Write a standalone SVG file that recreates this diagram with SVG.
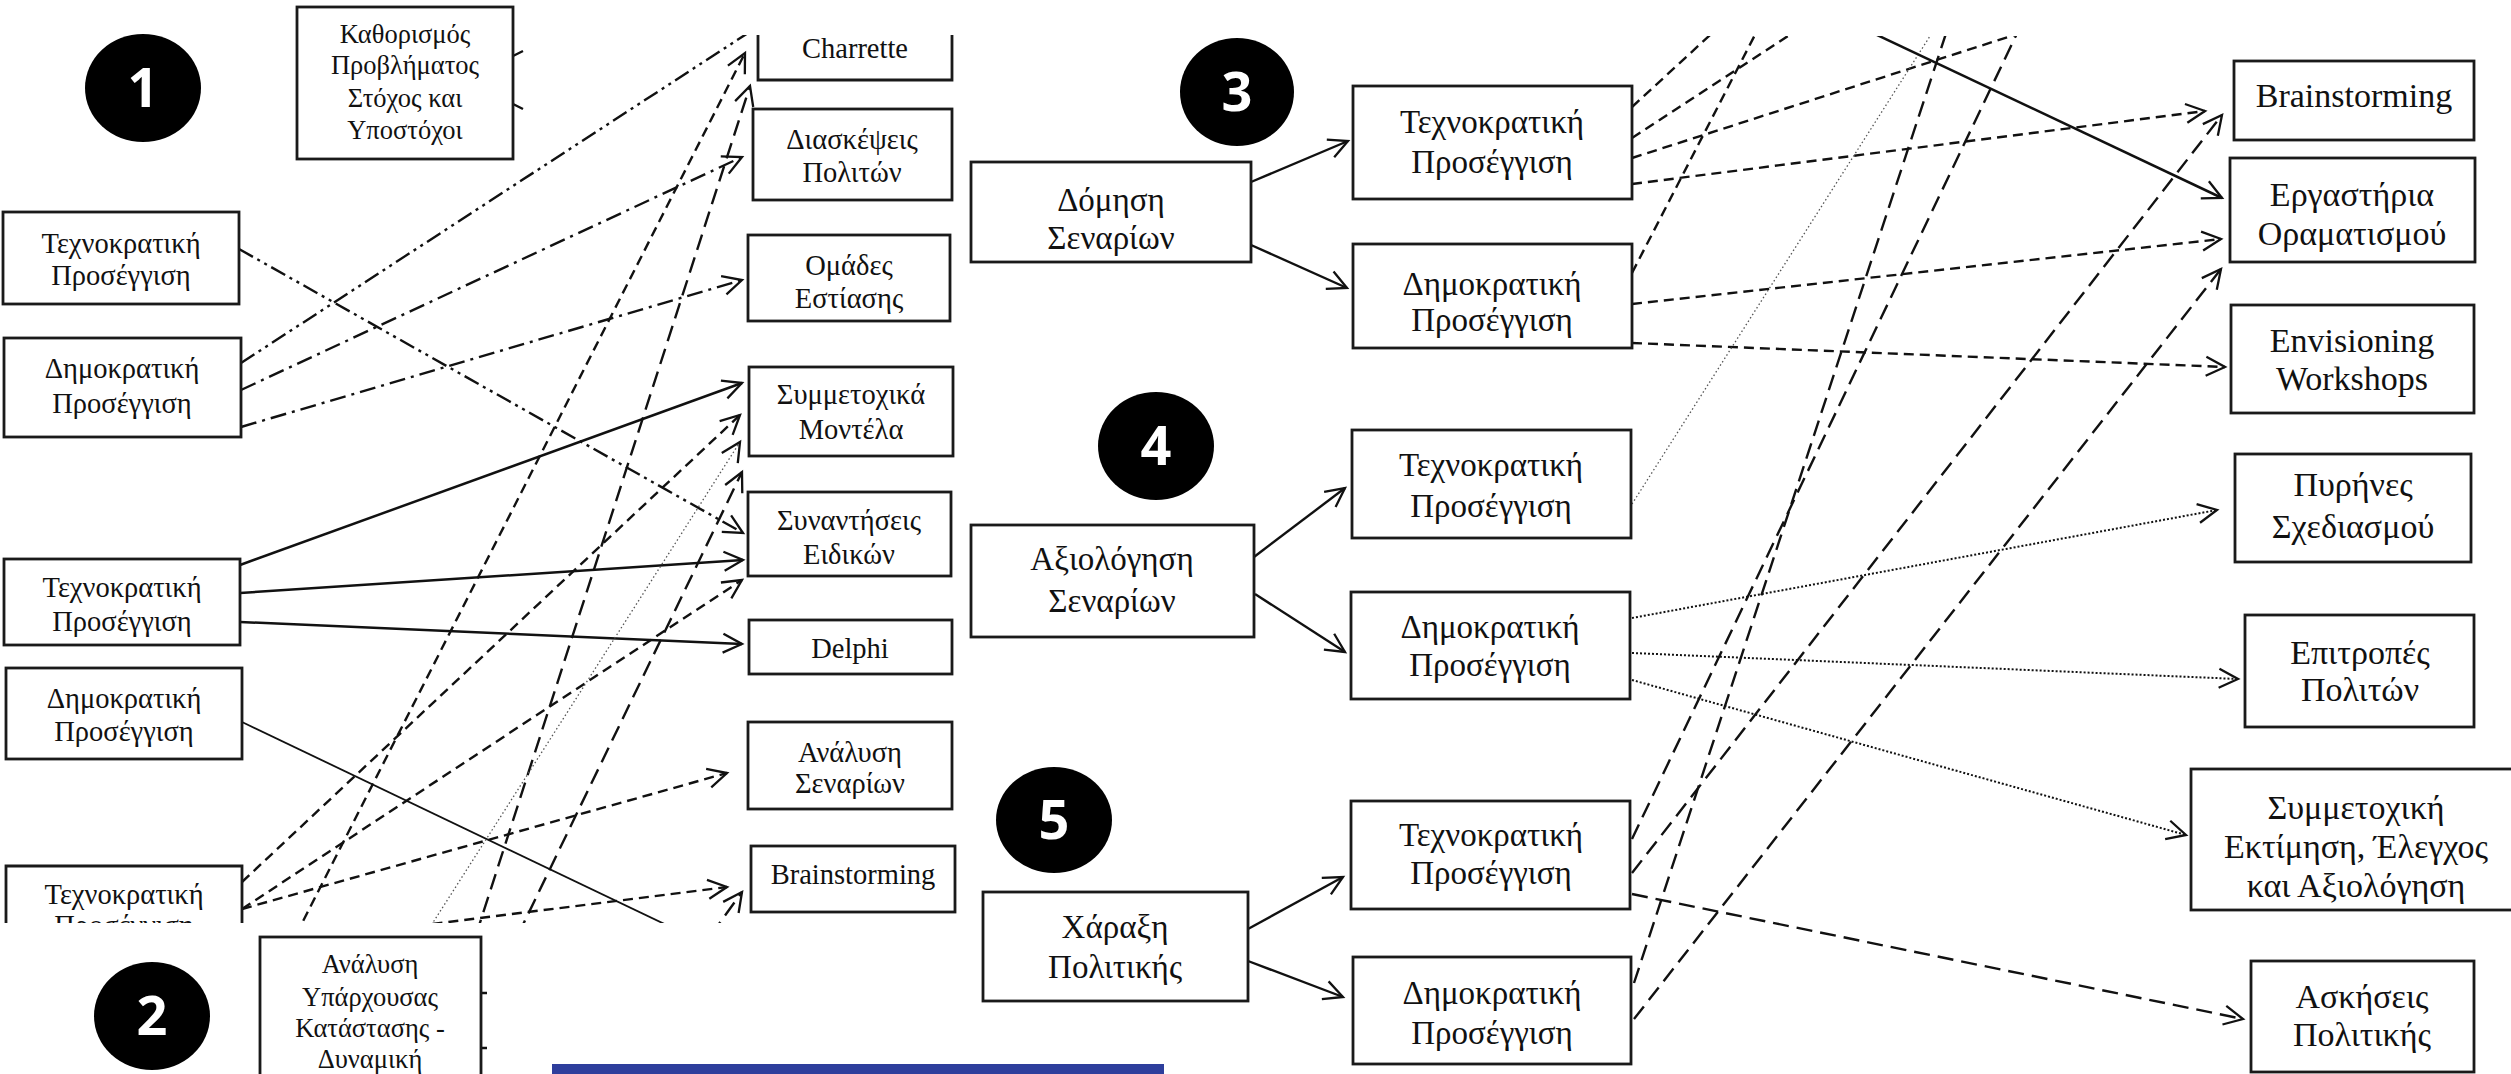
<svg xmlns="http://www.w3.org/2000/svg" width="2511" height="1074" viewBox="0 0 2511 1074">
<style>
.bx{fill:#fff;stroke:#1a1a1a;stroke-width:2.8}
.bo{fill:none;stroke:#1a1a1a;stroke-width:2.8}
.t{font-family:"Liberation Serif","Times New Roman",serif;text-anchor:middle;fill:#111}
.tl{font-size:28.5px}
.tr{font-size:33px}
.tc{font-size:34px}
.ts{font-size:26.5px}
.num{font-family:"Open Sans","Noto Sans",sans-serif;font-weight:700;font-size:54px;fill:#fff;text-anchor:middle}
.c{fill:none;stroke:#111;stroke-width:2.4}
.solid{stroke-width:2.5}
.thin{stroke-width:1.8}
.sd{stroke-dasharray:10 6}
.ld{stroke-dasharray:16 8}
.dd{stroke-dasharray:16 6 3 6}
.ddd{stroke-dasharray:16 5 3 5 3 5}
.dot{stroke-dasharray:2 2;stroke-width:2}
.fdot{stroke-dasharray:1.5 2.5;stroke-width:1.3;stroke:#555}
.ar{marker-end:url(#arr)}
</style>
<defs>
<marker id="arr" markerUnits="userSpaceOnUse" markerWidth="40" markerHeight="40" refX="0" refY="0" orient="auto" overflow="visible">
<path d="M-19,-9.5 L0,0 L-19,9.5" fill="none" stroke="#111" stroke-width="2.3" stroke-dasharray="none"/>
</marker>
<clipPath id="clipL"><rect x="0" y="35" width="1000" height="888"/></clipPath>
<clipPath id="clipR"><rect x="960" y="36" width="1551" height="1038"/></clipPath>
<clipPath id="clipT3"><rect x="0" y="0" width="1000" height="923"/></clipPath>
</defs>
<rect width="2511" height="1074" fill="#fff"/>

<g id="connectors">
<g id="left-connectors" clip-path="url(#clipL)">
<path class="c ddd" d="M241,363 L768,20"/>
<path class="c dd ar" d="M241,390 L742,157"/>
<path class="c dd ar" d="M241,427 L742,280"/>
<path class="c ddd ar" d="M239,249 L743,533"/>
<path class="c solid ar" d="M240,565 L742,383"/>
<path class="c solid ar" d="M240,593 L743,560"/>
<path class="c solid ar" d="M240,622 L742,644"/>
<path class="c thin" d="M242,722 L700,941"/>
<path class="c sd ar" d="M242,882 L740,415"/>
<path class="c sd ar" d="M242,909 L742,580"/>
<path class="c sd ar" d="M242,909 L727,773"/>
<path class="c sd ar" d="M242,948 L727,887"/>
<path class="c sd ar" d="M296,935 L745,53"/>
<path class="c ld ar" d="M476,935 L750,86"/>
<path class="c ld ar" d="M518,935 L742,472"/>
<path class="c fdot ar" d="M425,935 L740,442"/>
<path class="c ld ar" d="M711,935 L742,892"/>
</g>
<path class="c" d="M513,56 L523,51 M513,104 L523,109 M481,993 L487,993 M481,1048 L487,1048"/>
<g id="mid-connectors">
<path class="c ar" d="M1251,182 L1348,141"/>
<path class="c ar" d="M1251,245 L1347,288"/>
<path class="c ar" d="M1254,557 L1345,488"/>
<path class="c ar" d="M1255,594 L1345,652"/>
<path class="c ar" d="M1248,929 L1343,877"/>
<path class="c ar" d="M1248,961 L1343,997"/>
</g>
<g id="right-connectors" clip-path="url(#clipR)">
<path class="c sd" d="M1632,107 L1748,0"/>
<path class="c sd" d="M1632,138 L1843,0"/>
<path class="c sd" d="M1632,158 L2123,0"/>
<path class="c sd ar" d="M1632,184 L2205,111"/>
<path class="c sd" d="M1632,273 L1773,0"/>
<path class="c sd ar" d="M1632,304 L2221,239"/>
<path class="c sd ar" d="M1632,343 L2225,367"/>
<path class="c fdot" d="M1632,504 L1953,0"/>
<path class="c dot ar" d="M1632,618 L2217,510"/>
<path class="c dot ar" d="M1632,653 L2238,679"/>
<path class="c dot ar" d="M1632,680 L2186,835"/>
<path class="c ld" d="M1632,839 L2033,0"/>
<path class="c ld ar" d="M1632,873 L2222,115"/>
<path class="c ld ar" d="M1632,894 L2243,1019"/>
<path class="c ld" d="M1634,983 L1957,0"/>
<path class="c ld ar" d="M1634,1019 L2221,269"/>
<path class="c solid ar" d="M1803,0 L2222,198"/>
</g>
</g>

<g id="n-circle1"><ellipse cx="143" cy="88" rx="58" ry="54"/><text class="num" x="143" y="107">1</text></g>
<g id="n-kathorismos"><rect class="bx" x="297" y="7" width="216" height="152"/>
<text class="t ts" x="405" y="43">Καθορισμός</text><text class="t ts" x="405" y="74">Προβλήματος</text><text class="t ts" x="405" y="107">Στόχος και</text><text class="t ts" x="405" y="139">Υποστόχοι</text></g>
<g id="n-charrette"><path class="bo" d="M758,35 V80 H952 V35"/><text class="t tl" x="855" y="58">Charrette</text></g>
<g id="n-diaskepseis"><rect class="bx" x="753" y="109" width="199" height="91"/><text class="t tl" x="852" y="149">Διασκέψεις</text><text class="t tl" x="852" y="182">Πολιτών</text></g>
<g id="n-omades"><rect class="bx" x="748" y="235" width="202" height="86"/><text class="t tl" x="849" y="275">Ομάδες</text><text class="t tl" x="849" y="308">Εστίασης</text></g>
<g id="n-symmetoxika"><rect class="bx" x="749" y="367" width="204" height="89"/><text class="t tl" x="851" y="404">Συμμετοχικά</text><text class="t tl" x="851" y="439">Μοντέλα</text></g>
<g id="n-synantiseis"><rect class="bx" x="748" y="492" width="203" height="84"/><text class="t tl" x="849" y="530">Συναντήσεις</text><text class="t tl" x="849" y="564">Ειδικών</text></g>
<g id="n-delphi"><rect class="bx" x="749" y="620" width="203" height="54"/><text class="t tl" x="850" y="658">Delphi</text></g>
<g id="n-analysi-senarion"><rect class="bx" x="748" y="722" width="204" height="87"/><text class="t tl" x="850" y="762">Ανάλυση</text><text class="t tl" x="850" y="793">Σεναρίων</text></g>
<g id="n-brainstorming-l"><rect class="bx" x="751" y="846" width="204" height="66"/><text class="t tl" x="853" y="884">Brainstorming</text></g>

<g id="n-tech1"><rect class="bx" x="3" y="212" width="236" height="92"/><text class="t tl" x="121" y="253">Τεχνοκρατική</text><text class="t tl" x="121" y="285">Προσέγγιση</text></g>
<g id="n-dim1"><rect class="bx" x="4" y="338" width="237" height="99"/><text class="t tl" x="122" y="378">Δημοκρατική</text><text class="t tl" x="122" y="413">Προσέγγιση</text></g>
<g id="n-tech2"><rect class="bx" x="4" y="559" width="236" height="86"/><text class="t tl" x="122" y="597">Τεχνοκρατική</text><text class="t tl" x="122" y="631">Προσέγγιση</text></g>
<g id="n-dim2"><rect class="bx" x="6" y="668" width="236" height="91"/><text class="t tl" x="124" y="708">Δημοκρατική</text><text class="t tl" x="124" y="741">Προσέγγιση</text></g>
<g id="n-tech3" clip-path="url(#clipT3)"><path class="bo" d="M6,930 V866 H242 V930"/><text class="t tl" x="124" y="904">Τεχνοκρατική</text><text class="t tl" x="124" y="935">Προσέγγιση</text></g>

<g id="n-circle2"><ellipse cx="152" cy="1016" rx="58" ry="54"/><text class="num" x="152" y="1035">2</text></g>
<g id="n-analysi-yparx"><rect class="bx" x="260" y="937" width="221" height="150"/>
<text class="t ts" x="370" y="973">Ανάλυση</text><text class="t ts" x="370" y="1006">Υπάρχουσας</text><text class="t ts" x="370" y="1037">Κατάστασης -</text><text class="t ts" x="370" y="1068">Δυναμική</text></g>
<rect id="blue-bar" x="552" y="1064" width="612" height="10" fill="#2E3E9C"/>

<g id="n-circle3"><ellipse cx="1237" cy="92" rx="57" ry="54"/><text class="num" x="1237" y="111">3</text></g>
<g id="n-domisi"><rect class="bx" x="971" y="162" width="280" height="100"/><text class="t tr" x="1111" y="211">Δόμηση</text><text class="t tr" x="1111" y="249">Σεναρίων</text></g>
<g id="n-tech-s3"><rect class="bx" x="1353" y="86" width="279" height="113"/><text class="t tr" x="1492" y="133">Τεχνοκρατική</text><text class="t tr" x="1492" y="173">Προσέγγιση</text></g>
<g id="n-dim-s3"><rect class="bx" x="1353" y="244" width="279" height="104"/><text class="t tr" x="1492" y="295">Δημοκρατική</text><text class="t tr" x="1492" y="331">Προσέγγιση</text></g>

<g id="n-circle4"><ellipse cx="1156" cy="446" rx="58" ry="54"/><text class="num" x="1156" y="465">4</text></g>
<g id="n-axiologisi"><rect class="bx" x="971" y="525" width="283" height="112"/><text class="t tr" x="1112" y="570">Αξιολόγηση</text><text class="t tr" x="1112" y="612">Σεναρίων</text></g>
<g id="n-tech-s4"><rect class="bx" x="1352" y="430" width="279" height="108"/><text class="t tr" x="1491" y="476">Τεχνοκρατική</text><text class="t tr" x="1491" y="517">Προσέγγιση</text></g>
<g id="n-dim-s4"><rect class="bx" x="1351" y="592" width="279" height="107"/><text class="t tr" x="1490" y="638">Δημοκρατική</text><text class="t tr" x="1490" y="676">Προσέγγιση</text></g>

<g id="n-circle5"><ellipse cx="1054" cy="820" rx="58" ry="53"/><text class="num" x="1054" y="839">5</text></g>
<g id="n-charaxi"><rect class="bx" x="983" y="892" width="265" height="109"/><text class="t tr" x="1115" y="938">Χάραξη</text><text class="t tr" x="1115" y="978">Πολιτικής</text></g>
<g id="n-tech-s5"><rect class="bx" x="1351" y="801" width="279" height="108"/><text class="t tr" x="1491" y="846">Τεχνοκρατική</text><text class="t tr" x="1491" y="884">Προσέγγιση</text></g>
<g id="n-dim-s5"><rect class="bx" x="1353" y="957" width="278" height="107"/><text class="t tr" x="1492" y="1004">Δημοκρατική</text><text class="t tr" x="1492" y="1044">Προσέγγιση</text></g>

<g id="n-brainstorming-r"><rect class="bx" x="2234" y="61" width="240" height="79"/><text class="t tc" x="2354" y="107">Brainstorming</text></g>
<g id="n-ergastiria"><rect class="bx" x="2230" y="158" width="245" height="104"/><text class="t tc" x="2352" y="206">Εργαστήρια</text><text class="t tc" x="2352" y="245">Οραματισμού</text></g>
<g id="n-envisioning"><rect class="bx" x="2231" y="305" width="243" height="108"/><text class="t tc" x="2352" y="352">Envisioning</text><text class="t tc" x="2352" y="390">Workshops</text></g>
<g id="n-pyrines"><rect class="bx" x="2235" y="454" width="236" height="108"/><text class="t tc" x="2353" y="496">Πυρήνες</text><text class="t tc" x="2353" y="538">Σχεδιασμού</text></g>
<g id="n-epitropes"><rect class="bx" x="2245" y="615" width="229" height="112"/><text class="t tc" x="2360" y="664">Επιτροπές</text><text class="t tc" x="2360" y="701">Πολιτών</text></g>
<g id="n-symmetoxiki"><rect class="bx" x="2191" y="769" width="340" height="141"/><text class="t tc" x="2356" y="819">Συμμετοχική</text><text class="t tc" x="2356" y="858">Εκτίμηση, Έλεγχος</text><text class="t tc" x="2356" y="897">και Αξιολόγηση</text></g>
<g id="n-askiseis"><rect class="bx" x="2251" y="961" width="223" height="111"/><text class="t tc" x="2362" y="1008">Ασκήσεις</text><text class="t tc" x="2362" y="1046">Πολιτικής</text></g>
</svg>
